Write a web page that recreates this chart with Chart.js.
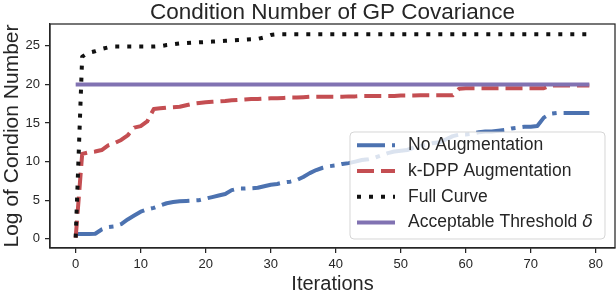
<!DOCTYPE html>
<html>
<head>
<meta charset="utf-8">
<script src="https://cdn.jsdelivr.net/npm/chart.js@4.4.0/dist/chart.umd.min.js"></script>
<style>
  html, body { margin: 0; padding: 0; background: #fff; }
  #wrap { width: 616px; height: 292px; }
</style>
</head>
<body>
<div id="wrap"><canvas id="myChart" width="616" height="292"></canvas></div>
<script>
// iteration index (x)
const iterations = [
  0, 1, 2, 3, 4, 5, 6, 7, 8, 9, 10, 11, 12, 13, 14, 15, 16, 17, 18, 19,
  20, 21, 22, 23, 24, 25, 26, 27, 28, 29, 30, 31, 32, 33, 34, 35, 36, 37, 38, 39,
  40, 41, 42, 43, 44, 45, 46, 47, 48, 49, 50, 51, 52, 53, 54, 55, 56, 57, 58, 59,
  60, 61, 62, 63, 64, 65, 66, 67, 68, 69, 70, 71, 72, 73, 74, 75, 76, 77, 78, 79
];

// log condition number per series
const noAugmentation = [
  0.6, 0.6, 0.6, 0.65, 1.2, 1.5, 1.6, 1.9, 2.5, 3.0, 3.5, 3.8, 4.0, 4.3, 4.6, 4.75, 4.85, 4.9, 4.95, 5.0,
  5.2, 5.4, 5.6, 5.8, 6.3, 6.5, 6.5, 6.55, 6.6, 6.8, 7.0, 7.1, 7.3, 7.4, 7.6, 8.0, 8.5, 8.9, 9.2, 9.4,
  9.5, 9.7, 9.8, 10.0, 10.2, 10.3, 10.5, 10.8, 11.1, 11.3, 11.4, 11.5, 11.8, 12.0, 12.2, 12.4, 12.5, 12.9, 13.3, 13.5,
  13.5, 13.6, 13.8, 13.9, 13.9, 14.0, 14.1, 14.3, 14.4, 14.5, 14.5, 14.6, 15.7, 16.2, 16.3, 16.3, 16.3, 16.3, 16.3, 16.3
];
const kdppAugmentation = [
  0.15, 11.0, 11.2, 11.3, 11.5, 12.1, 12.4, 12.8, 13.4, 14.4, 14.6, 15.2, 16.8, 16.9, 17.0, 17.05, 17.1, 17.3, 17.5, 17.6,
  17.7, 17.75, 17.8, 17.85, 17.95, 18.0, 18.05, 18.1, 18.1, 18.15, 18.2, 18.2, 18.25, 18.3, 18.3, 18.35, 18.4, 18.4, 18.4, 18.4,
  18.4, 18.4, 18.45, 18.45, 18.5, 18.5, 18.5, 18.5, 18.5, 18.5, 18.55, 18.55, 18.55, 18.6, 18.6, 18.6, 18.6, 18.6, 18.6, 19.45,
  19.5, 19.5, 19.5, 19.5, 19.5, 19.5, 19.5, 19.5, 19.5, 19.5, 19.5, 19.5, 19.5, 19.85, 19.85, 19.85, 19.85, 19.85, 19.85, 19.85
];
const fullCurve = [
  0.15, 23.6, 24.1, 24.3, 24.6, 24.8, 24.9, 24.9, 24.9, 24.9, 24.9, 24.9, 24.9, 24.95, 25.1, 25.2, 25.3, 25.35, 25.4, 25.45,
  25.5, 25.55, 25.6, 25.65, 25.7, 25.75, 25.8, 25.85, 25.9, 26.1, 26.4, 26.5, 26.5, 26.5, 26.5, 26.5, 26.5, 26.5, 26.5, 26.5,
  26.5, 26.5, 26.5, 26.5, 26.5, 26.5, 26.5, 26.5, 26.5, 26.5, 26.5, 26.5, 26.5, 26.5, 26.5, 26.5, 26.5, 26.5, 26.5, 26.5,
  26.5, 26.5, 26.5, 26.5, 26.5, 26.5, 26.5, 26.5, 26.5, 26.5, 26.5, 26.5, 26.5, 26.5, 26.5, 26.5, 26.5, 26.5, 26.5, 26.5
];
const acceptableThreshold = 20;

const xTicks = [0, 10, 20, 30, 40, 50, 60, 70, 80];
const yTicks = [0, 5, 10, 15, 20, 25];

const FONT = '"Liberation Sans", Arial, sans-serif';
const INK = '#262626';

const toPoints = (ys) => ys.map((y, i) => ({ x: iterations[i], y: y }));

// frame on all four sides, like matplotlib spines
const frame = {
  id: 'frame',
  afterDatasetsDraw(chart) {
    const { ctx, chartArea: a } = chart;
    ctx.save();
    ctx.strokeStyle = INK;
    ctx.lineWidth = 1.25;
    ctx.strokeRect(a.left, a.top, a.right - a.left, a.bottom - a.top);
    ctx.restore();
  }
};

// legend drawn inside the plot, lower right, semi-transparent
const insideLegend = {
  id: 'insideLegend',
  afterDraw(chart) {
    const { ctx, chartArea: a } = chart;
    const w = 255, h = 107;
    const x = a.right - 10 - w, y = a.bottom - 9 - h;
    ctx.save();
    ctx.beginPath();
    ctx.roundRect(x, y, w, h, 4);
    ctx.fillStyle = 'rgba(255,255,255,0.8)';
    ctx.fill();
    ctx.strokeStyle = 'rgba(204,204,204,0.8)';
    ctx.lineWidth = 1;
    ctx.stroke();

    chart.data.datasets.forEach((ds, i) => {
      const cy = y + 13.3 + i * 25.7;
      ctx.beginPath();
      ctx.setLineDash(ds.borderDash || []);
      ctx.lineCap = 'butt';
      ctx.strokeStyle = ds.borderColor;
      ctx.lineWidth = ds.borderWidth;
      ctx.moveTo(x + 7, cy);
      ctx.lineTo(x + 45, cy);
      ctx.stroke();
      ctx.setLineDash([]);

      ctx.fillStyle = INK;
      ctx.textBaseline = 'middle';
      ctx.textAlign = 'left';
      ctx.font = '17.5px ' + FONT;
      ctx.fillText(ds.label, x + 58, cy);
      if (ds.labelSymbol) {
        const tw = ctx.measureText(ds.label).width;
        ctx.font = 'italic 17.5px "DejaVu Sans", sans-serif';
        ctx.fillText(ds.labelSymbol, x + 58 + tw, cy);
      }
    });
    ctx.restore();
  }
};

const ctx = document.getElementById('myChart');
new Chart(ctx, {
  type: 'line',
  data: {
    datasets: [
      {
        label: 'No Augmentation',
        data: toPoints(noAugmentation),
        borderColor: '#4c72b0',
        borderWidth: 4,
        borderDash: [28, 7, 4.5, 7],
        order: 4,
      },
      {
        label: 'k-DPP Augmentation',
        data: toPoints(kdppAugmentation),
        borderColor: '#c44e52',
        borderWidth: 4,
        borderDash: [17, 7],
        order: 3,
      },
      {
        label: 'Full Curve',
        data: toPoints(fullCurve),
        borderColor: '#111111',
        borderWidth: 4,
        borderDash: [4, 8],
        order: 2,
      },
      {
        label: 'Acceptable Threshold ',
        labelSymbol: 'δ',
        data: [
          { x: iterations[0], y: acceptableThreshold },
          { x: iterations[iterations.length - 1], y: acceptableThreshold }
        ],
        borderColor: '#8172b2',
        borderWidth: 4,
        order: 1,
      },
    ],
  },
  options: {
    responsive: false,
    animation: false,
    layout: { padding: { right: 1 } },
    elements: {
      point: { radius: 0 },
      line: { tension: 0, borderCapStyle: 'butt', borderJoinStyle: 'round', fill: false },
    },
    plugins: {
      legend: { display: false },
      tooltip: { enabled: false },
      title: {
        display: true,
        fullSize: false,
        text: 'Condition Number of GP Covariance',
        color: INK,
        font: { family: FONT, size: 22.5, weight: 'normal', lineHeight: '22px' },
        padding: { top: 2, bottom: 0 },
      },
    },
    scales: {
      x: {
        type: 'linear',
        min: -3.95,
        max: 82.95,
        afterBuildTicks: (s) => { s.ticks = xTicks.map(v => ({ value: v })); },
        afterFit: (s) => { s.height = 44; s.paddingLeft = 0; s.paddingRight = 0; },
        ticks: { color: INK, font: { family: FONT, size: 13 }, padding: 4, maxRotation: 0 },
        grid: { display: true, drawOnChartArea: false, drawTicks: true, tickLength: 5, color: INK, lineWidth: 1.25 },
        border: { display: true, color: INK, width: 1.25 },
        title: {
          display: true,
          text: 'Iterations',
          color: INK,
          font: { family: FONT, size: 20, lineHeight: '16px' },
          padding: 0,
        },
      },
      y: {
        type: 'linear',
        min: -1.2,
        max: 27.83,
        afterBuildTicks: (s) => { s.ticks = yTicks.map(v => ({ value: v })); },
        afterFit: (s) => { s.width = 50; s.paddingTop = 0; s.paddingBottom = 0; },
        ticks: { color: INK, font: { family: FONT, size: 13 }, padding: 5 },
        grid: { display: true, drawOnChartArea: false, drawTicks: true, tickLength: 5, color: INK, lineWidth: 1.25 },
        border: { display: true, color: INK, width: 1.25 },
        title: {
          display: true,
          text: 'Log of Condion Number',
          color: INK,
          font: { family: FONT, size: 21, lineHeight: '25px' },
          padding: 0,
        },
      },
    },
  },
  plugins: [frame, insideLegend],
});
</script>
</body>
</html>
